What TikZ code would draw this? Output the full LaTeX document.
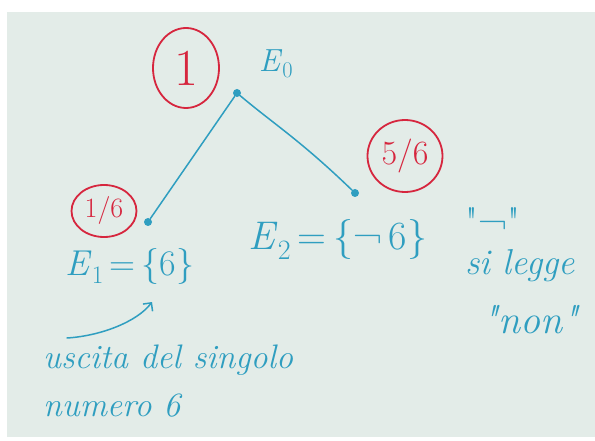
\documentclass[tikz,border=0pt]{standalone}
\usetikzlibrary{shapes.geometric, arrows.meta}
\definecolor{paper}{HTML}{E3ECE8}
\definecolor{inkblue}{HTML}{2F9EC0}
\definecolor{inkred}{HTML}{D6263E}
\begin{document}
\begin{tikzpicture}[
    x=1pt, y=-1pt,
    ink/.style={draw=inkblue, line width=1.5pt, line cap=round},
    dot/.style={circle, fill=inkblue, inner sep=0pt, minimum size=8pt},
    prob/.style={ellipse, draw=inkred, line width=1.8pt, text=inkred, inner sep=0pt},
    hand/.style={text=inkblue, inner sep=0pt, align=left}
]

%% Foglio
\useasboundingbox (0,0) rectangle (595,441);
\fill[white] (0,0) rectangle (595,441);
\fill[paper] (7,12) rectangle (595,437);

%% Albero
\node[dot] (e0) at (237,93) {};
\node[dot] (e1) at (148,222) {};
\node[dot] (e2) at (355,193) {};
\draw[ink] (e0) -- (e1);
\draw[ink] (e0) .. controls (275,125) and (300,140) .. (e2);

%% Probabilita
\node[prob, minimum width=66pt, minimum height=80pt, font=\fontsize{52}{52}\selectfont]
      (p0) at (186,68) {1};
\node[prob, minimum width=65pt, minimum height=52pt, font=\fontsize{28}{28}\selectfont]
      (p1) at (104,211) {1/6};
\node[prob, minimum width=75pt, minimum height=72pt, font=\fontsize{34}{34}\selectfont]
      (p2) at (405,156) {5/6};

%% Eventi
\node[hand, font=\fontsize{32}{32}\selectfont] (l0) at (276,64) {\textit{E}\textsubscript{0}};
\node[hand, font=\fontsize{36}{36}\selectfont] (l1) at (130,266) {\textit{E}\textsubscript{1}\,=\,\{6\}};
\node[hand, font=\fontsize{40}{40}\selectfont] (l2) at (338,240) {\textit{E}\textsubscript{2}\,=\,\{¬\,6\}};

%% Nota sul simbolo
\node[hand, font=\fontsize{40}{40}\selectfont] (q) at (493,222) {\textquotedbl¬\textquotedbl};
\node[hand, font=\fontsize{36}{36}\selectfont\itshape] (sl) at (520,266) {si legge};
\node[hand, font=\fontsize{40}{40}\selectfont\itshape] (nn) at (530,320) {\textquotedbl non\textquotedbl};

%% Uscita del 6
\node[hand, font=\fontsize{34}{34}\selectfont\itshape, anchor=west] (us) at (43,360) {uscita del singolo};
\node[hand, font=\fontsize{34}{34}\selectfont\itshape, anchor=west] (nu) at (43,406) {numero 6};
\coordinate (a0) at (67,338);
\coordinate (a1) at (152,302);
\draw[ink, ->, >={Straight Barb[length=6pt]}] (a0) .. controls (100,336) and (137,322) .. (a1);

\end{tikzpicture}
\end{document}
